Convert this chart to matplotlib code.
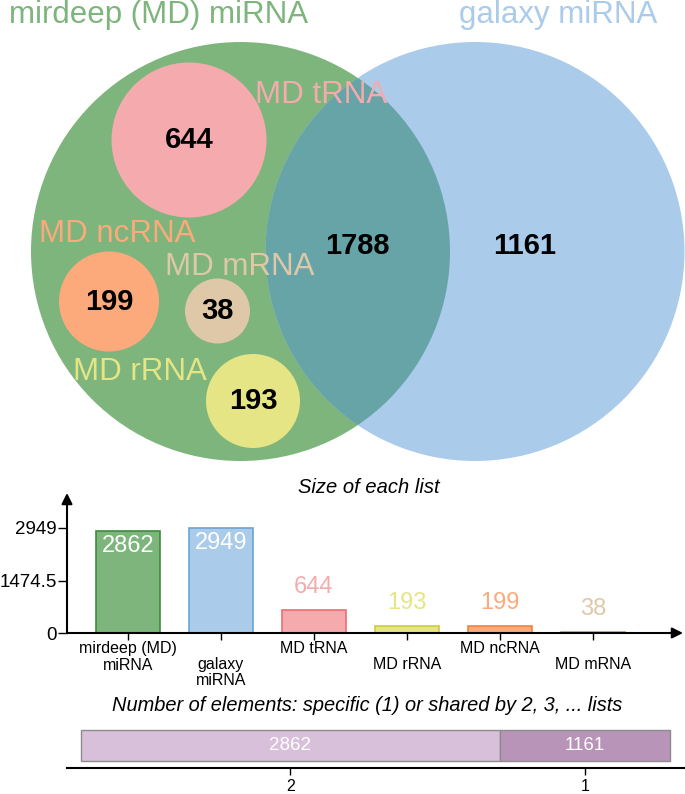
import matplotlib.pyplot as plt
from matplotlib.patches import Circle
import numpy as np

plt.rcParams['font.family'] = ['Liberation Sans', 'DejaVu Sans']

# --- data ---
set_names = ['mirdeep (MD) miRNA', 'galaxy miRNA']
sub_names = ['MD tRNA', 'MD ncRNA', 'MD mRNA', 'MD rRNA']
sub_counts = [644, 199, 38, 193]
shared_count = 1788
galaxy_only = 1161

list_labels = ['mirdeep (MD)\nmiRNA', 'galaxy\nmiRNA', 'MD tRNA', 'MD rRNA', 'MD ncRNA', 'MD mRNA']
list_sizes = [2862, 2949, 644, 193, 199, 38]
ytick_vals = [0, 1474.5, 2949]
ytick_labels = ['0', '1474.5', '2949']

degree_labels = ['2', '1']
degree_counts = [2862, 1161]

# --- colours ---
green = '#7db57d'
blue = '#aacbe9'
teal = '#67a4a7'
pink = '#f5abad'
orange = '#fcaa7b'
tan = '#dec8a8'
yellow = '#e5e585'
sub_colors = [pink, orange, tan, yellow]

bar_fill = [green, blue, pink, yellow, orange, tan]
bar_edge = ['#3d8c3d', '#6aa3d8', '#ec6e72', '#cccc40', '#f0843e', '#c49a62']
label_col = ['white', 'white', pink, yellow, orange, tan]

# --- layout (pixels in a 685x794 canvas) ---
big_xy = [(240.5, 251.5), (475.0, 251.5)]
big_r = 209.5
sub_xy = [(189, 140), (109, 301.5), (217.5, 311), (253, 401)]
sub_r = [77.5, 50, 32.5, 47]
sub_label_xy = [(321, 103), (117, 242), (240, 275), (140, 380)]
title_xy = [(159, 23), (558, 23)]

fig = plt.figure(figsize=(6.85, 7.94), dpi=100)
ax = fig.add_axes([0, 0, 1, 1])
ax.set_xlim(0, 685)
ax.set_ylim(794, 0)
ax.axis('off')

# venn
g = Circle(big_xy[0], big_r, fc=green, ec='none')
b = Circle(big_xy[1], big_r, fc=blue, ec='none')
ax.add_patch(g)
ax.add_patch(b)
ov = Circle(big_xy[0], big_r, fc=teal, ec='none')
ax.add_patch(ov)
ov.set_clip_path(b)

for (cx, cy), r, c, n in zip(sub_xy, sub_r, sub_colors, sub_counts):
    ax.add_patch(Circle((cx, cy), r, fc=c, ec='none'))
    ax.text(cx, cy - 3, str(n), ha='center', va='center_baseline', fontsize=21, fontweight='bold')

for (lx, ly), c, name in zip(sub_label_xy, sub_colors, sub_names):
    ax.text(lx, ly, name, ha='center', va='baseline', fontsize=22.5, color=c)

for (tx, ty), c, name in zip(title_xy, [green, blue], set_names):
    ax.text(tx, ty, name, ha='center', va='baseline', fontsize=22.5, color=c)

ax.text(357, 243, str(shared_count), ha='center', va='center_baseline', fontsize=21, fontweight='bold')
ax.text(525, 243, str(galaxy_only), ha='center', va='center_baseline', fontsize=21, fontweight='bold')

ax.text(369, 493, 'Size of each list', ha='center', va='baseline', fontsize=14.5, style='italic')
ax.text(367, 711, 'Number of elements: specific (1) or shared by 2, 3, ... lists',
        ha='center', va='baseline', fontsize=14.4, style='italic')

# bar chart of list sizes
bx = fig.add_axes([67 / 685, 1 - 633 / 794, (683 - 67) / 685, (633 - 493) / 794])
bx.patch.set_alpha(0)
x = np.arange(len(list_sizes))
bx.bar(x, list_sizes, width=0.68, color=bar_fill, edgecolor=bar_edge, linewidth=1.2)
bx.set_xlim(-0.656, 5.968)
bx.set_ylim(0, 3932)
for s in bx.spines.values():
    s.set_visible(False)
arw = dict(arrowstyle='-|>', color='black', lw=1.5, mutation_scale=16, shrinkA=0, shrinkB=0)
bx.annotate('', xy=(0, 1), xytext=(0, 0), xycoords='axes fraction', arrowprops=arw)
bx.annotate('', xy=(1, 0), xytext=(0, 0), xycoords='axes fraction', arrowprops=arw)
bx.set_yticks(ytick_vals)
bx.set_yticklabels(ytick_labels, fontsize=13.5)
bx.tick_params(axis='y', length=6.5, width=1, pad=1)
bx.set_xticks(x)
bx.set_xticklabels(list_labels, fontsize=11.5, linespacing=1.1)
bx.tick_params(axis='x', length=5, width=1)
for i, t in enumerate(bx.xaxis.get_major_ticks()):
    t.set_pad(1 if i % 2 == 0 else 12)

for i, v in enumerate(list_sizes):
    if v > max(list_sizes) / 2:
        bx.annotate(str(v), (i, v), xytext=(0, -10.5), textcoords='offset points',
                    ha='center', va='center', fontsize=17, color=label_col[i])
    else:
        bx.annotate(str(v), (i, v), xytext=(0, 16.5), textcoords='offset points',
                    ha='center', va='center', fontsize=17, color=label_col[i])

# stacked bar of shared degrees
cx_ = fig.add_axes([67 / 685, 1 - 768 / 794, (685 - 67) / 685, 43 / 794])
cx_.patch.set_alpha(0)
lefts = np.cumsum([0] + degree_counts[:-1])
cx_.barh(0.523, degree_counts, left=lefts, height=0.72,
         color=['#d9c0da', '#b994b9'], edgecolor='#8c8c8c', linewidth=1)
cx_.set_xlim(-95.6, 4125.7)
cx_.set_ylim(0, 1)
for k in ['top', 'right', 'left']:
    cx_.spines[k].set_visible(False)
cx_.spines['bottom'].set_linewidth(1.5)
cx_.set_yticks([])
centers = lefts + np.array(degree_counts) / 2
cx_.set_xticks(centers)
cx_.set_xticklabels(degree_labels, fontsize=11.5)
cx_.tick_params(axis='x', length=5, width=1, pad=3)
for c, v in zip(centers, degree_counts):
    cx_.text(c, 0.523, str(v), ha='center', va='center', fontsize=13.5, color='white')

fig.savefig('out.png', dpi=100)
